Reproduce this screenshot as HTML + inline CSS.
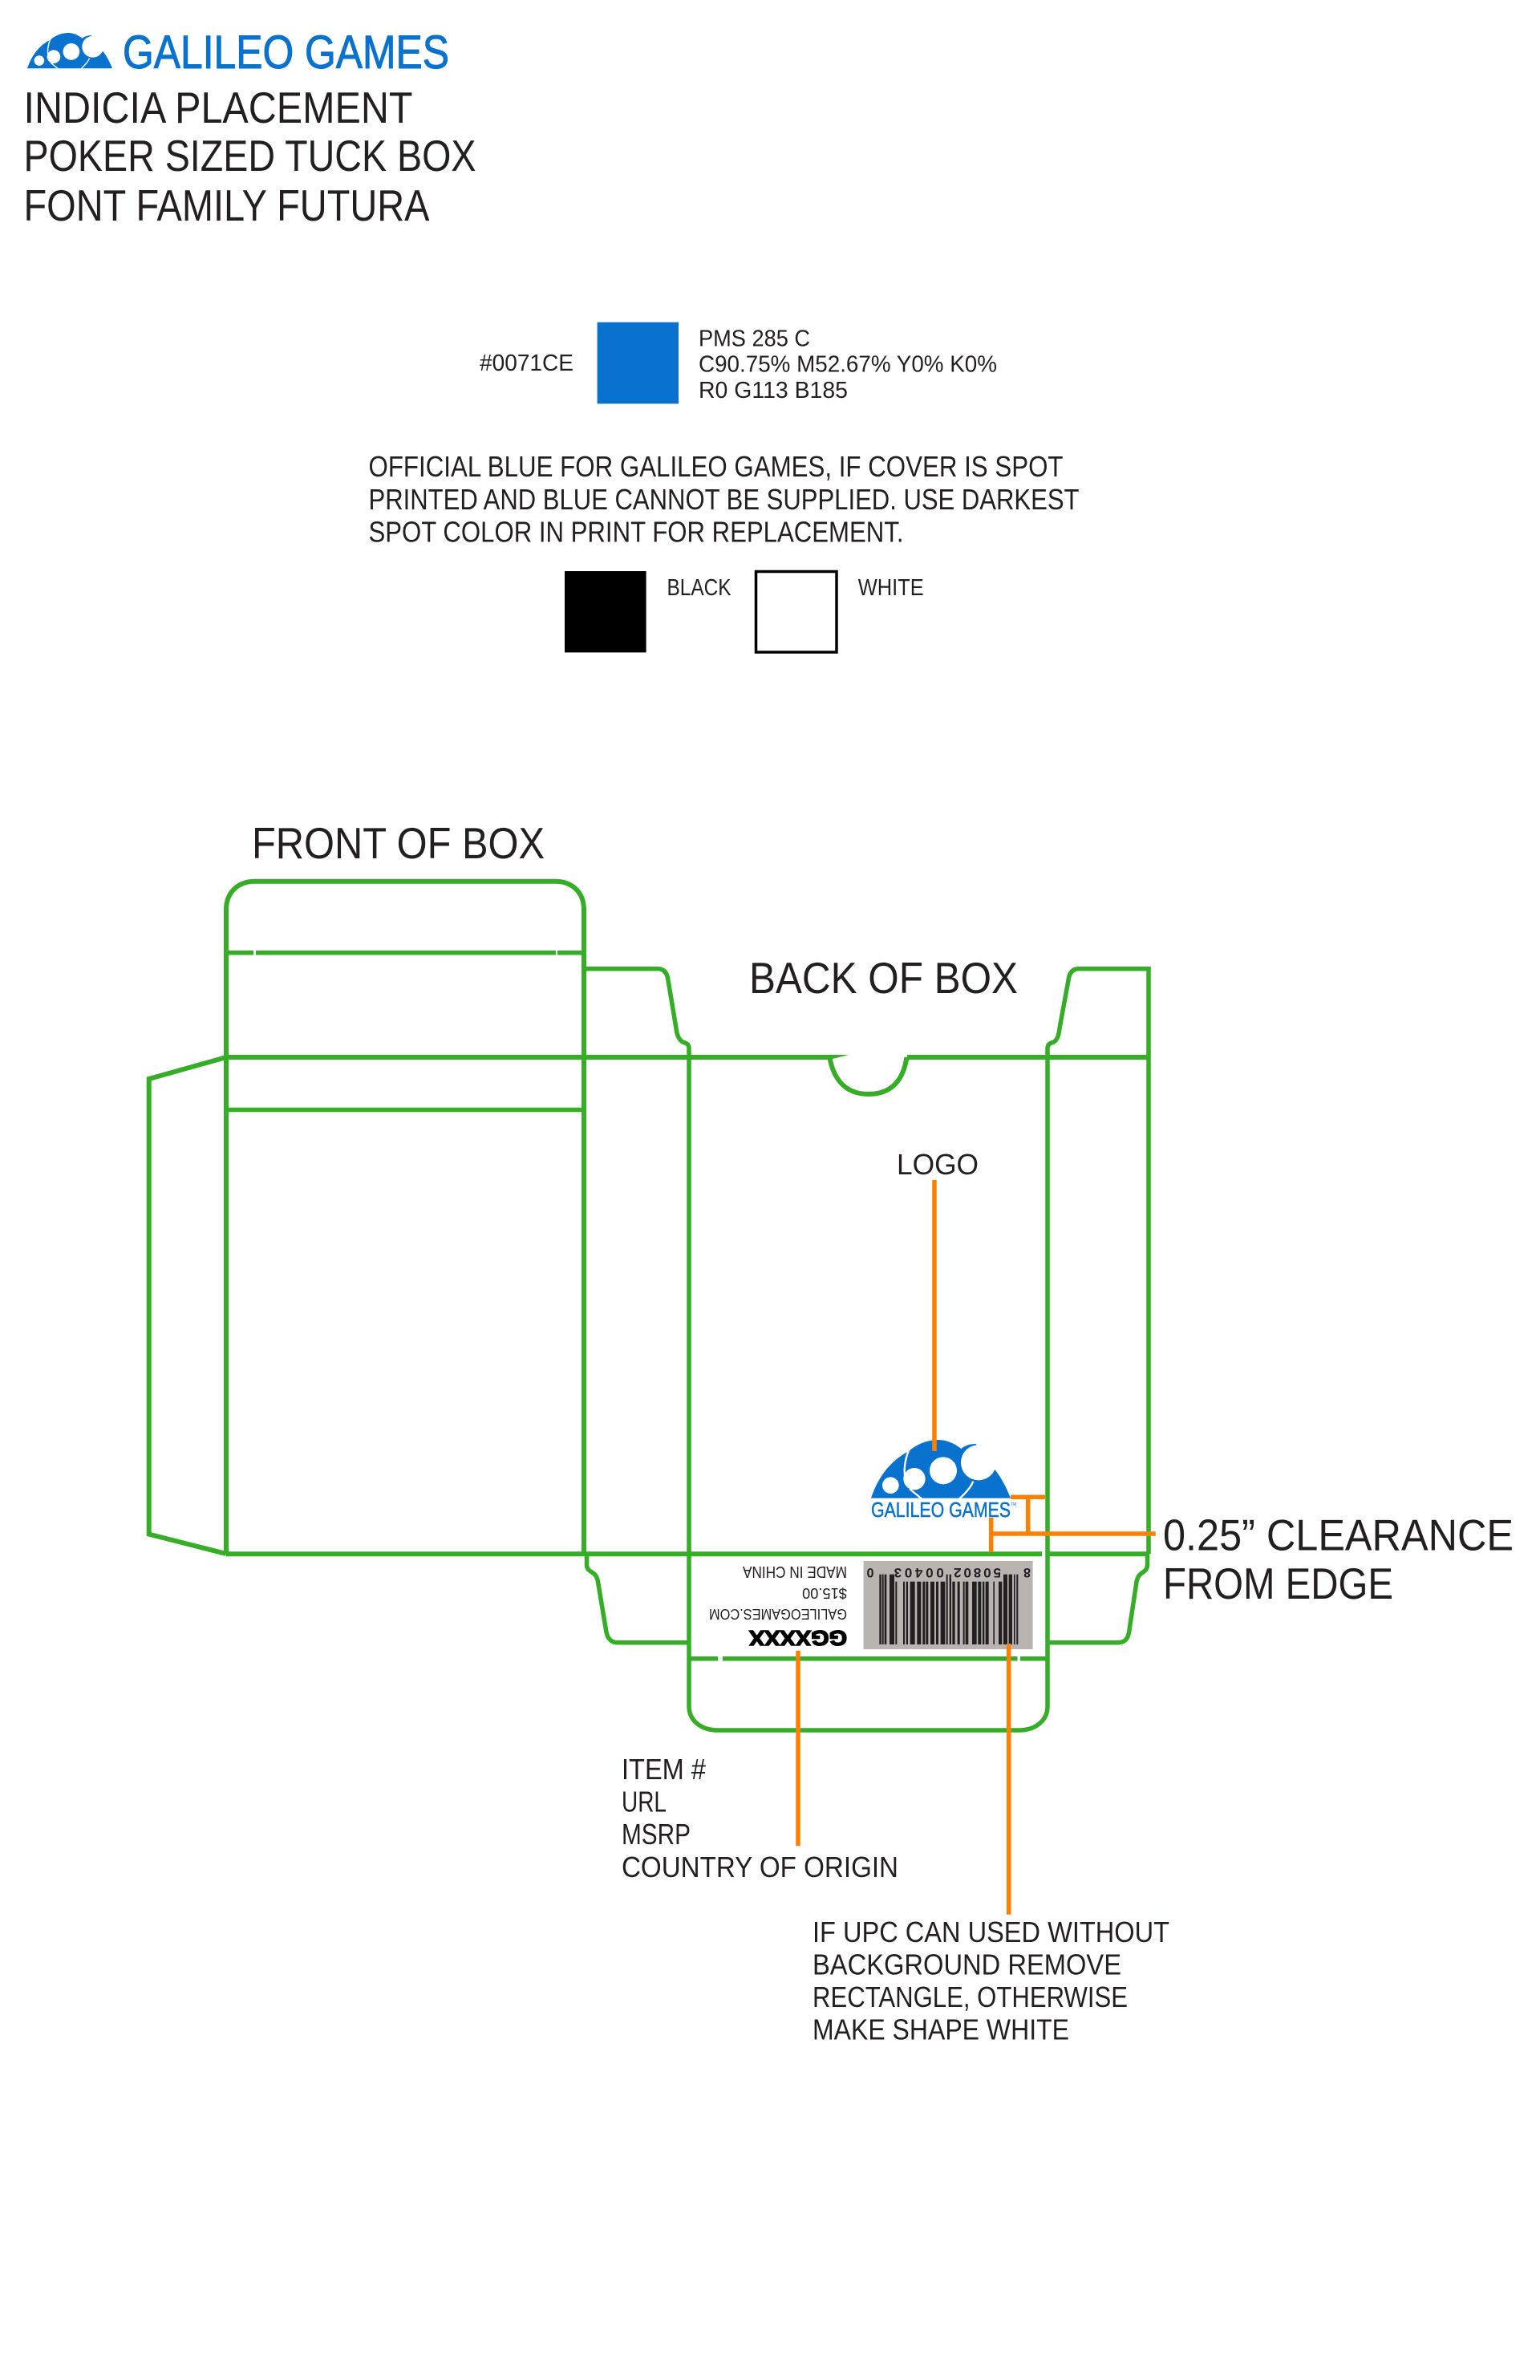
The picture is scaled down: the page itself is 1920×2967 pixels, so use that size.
<!DOCTYPE html>
<html lang="en">
<head>
<meta charset="utf-8">
<title>Indicia Placement</title>
<style>
html,body{margin:0;padding:0;background:#fff;width:1920px;height:2967px;overflow:hidden}
svg{display:block}
text{font-family:"Liberation Sans",sans-serif;fill:#231f20;font-kerning:normal}
.t{font-size:55px}
.m{font-size:36px}
.s{font-size:28.5px}
.g{fill:none;stroke:#36ad27;stroke-width:6}
.h{fill:none;stroke:#36ad27;stroke-width:5.5}
.o{fill:none;stroke:#ff8000;stroke-width:5.5}
</style>
</head>
<body>
<svg xmlns="http://www.w3.org/2000/svg" width="1920" height="2967" viewBox="0 0 1920 2967">
<rect width="1920" height="2967" fill="#fff"/>
<defs>
<g id="dome">
<path fill="#0971ce" d="M138 353C165 270 215 210 278 178C310 150 350 135 390 135C420 135 450 148 475 168C490 155 510 150 530 150L600 245C625 275 645 315 660 353Z"/>
<g fill="#fff">
<circle cx="211" cy="305" r="31"/>
<circle cx="300" cy="281" r="41"/>
<circle cx="408" cy="250" r="51"/>
<circle cx="540" cy="220" r="66"/>
</g>
<g fill="none" stroke="#fff" stroke-width="7">
<path d="M280 172C264 210 260 250 266 285"/>
<path d="M282 318L328 356"/>
<path d="M520 290C510 315 490 335 468 356"/>
</g>
</g>
</defs>

<!-- header -->
<use href="#dome" transform="translate(6 13.6) scale(.2031)"/>
<text x="153" y="85" font-size="58" stroke="#0971ce" stroke-width="1" style="fill:#0971ce" textLength="407" lengthAdjust="spacingAndGlyphs">GALILEO GAMES</text>
<text class="t" x="29.5" y="153" textLength="485" lengthAdjust="spacingAndGlyphs">INDICIA PLACEMENT</text>
<text class="t" x="29.5" y="213" textLength="564" lengthAdjust="spacingAndGlyphs">POKER SIZED TUCK BOX</text>
<text class="t" x="29.5" y="275" textLength="506" lengthAdjust="spacingAndGlyphs">FONT FAMILY FUTURA</text>

<!-- swatches -->
<text class="s" x="598" y="462" textLength="117" lengthAdjust="spacingAndGlyphs">#0071CE</text>
<rect x="744.6" y="401.7" width="101.4" height="101.6" fill="#0971ce"/>
<text class="s" x="871" y="431.5" textLength="139" lengthAdjust="spacingAndGlyphs">PMS 285 C</text>
<text class="s" x="871" y="463.5" textLength="372" lengthAdjust="spacingAndGlyphs">C90.75% M52.67% Y0% K0%</text>
<text class="s" x="871" y="496" textLength="186" lengthAdjust="spacingAndGlyphs">R0 G113 B185</text>
<text class="m" x="459.5" y="594" textLength="866" lengthAdjust="spacingAndGlyphs">OFFICIAL BLUE FOR GALILEO GAMES, IF COVER IS SPOT</text>
<text class="m" x="459.5" y="635" textLength="886" lengthAdjust="spacingAndGlyphs">PRINTED AND BLUE CANNOT BE SUPPLIED. USE DARKEST</text>
<text class="m" x="459.5" y="675.7" textLength="667" lengthAdjust="spacingAndGlyphs">SPOT COLOR IN PRINT FOR REPLACEMENT.</text>
<rect x="704" y="712" width="101.6" height="101.4" fill="#000"/>
<text class="s" x="831.5" y="742" textLength="80" lengthAdjust="spacingAndGlyphs">BLACK</text>
<rect x="942.5" y="712.5" width="100.5" height="100.5" fill="#fff" stroke="#000" stroke-width="3.5"/>
<text class="s" x="1069.7" y="742" textLength="82" lengthAdjust="spacingAndGlyphs">WHITE</text>

<!-- section labels -->
<text class="t" x="314" y="1070" textLength="365" lengthAdjust="spacingAndGlyphs">FRONT OF BOX</text>
<text class="t" x="934" y="1238" textLength="335" lengthAdjust="spacingAndGlyphs">BACK OF BOX</text>
<text class="m" x="1118" y="1464" textLength="102" lengthAdjust="spacingAndGlyphs">LOGO</text>
<text class="t" x="1450" y="1932.7" textLength="437" lengthAdjust="spacingAndGlyphs">0.25” CLEARANCE</text>
<text class="t" x="1450" y="1993" textLength="287" lengthAdjust="spacingAndGlyphs">FROM EDGE</text>

<!-- dieline -->
<g>
<path class="g" d="M282 1937V1134C282 1113 296 1098.7 318 1098.7H692C714 1098.7 728 1113 728 1134V1937"/>
<path class="h" d="M282 1187.7H316M319 1187.7H693M695 1187.7H728"/>
<path class="g" d="M282 1318H1034.5M1131 1318H1432"/>
<path fill="#36ad27" d="M1034 1315H1058L1034 1321Z"/>
<path class="h" d="M282 1383.5H728"/>
<path class="g" d="M282 1318L185.7 1345V1912.6L282 1937"/>
<path class="h" d="M728 1207.7H820C828 1207.7 832 1213 833 1222L843 1282C844 1292 848 1299 854 1300C857 1301 859 1303 859 1307V2127C859 2145 874 2157 895 2157H1270C1291 2157 1306 2145 1306 2127V1307C1306 1303 1308 1301 1311 1300C1317 1299 1320 1292 1321 1282L1332 1222C1333 1213 1337 1207.7 1345 1207.7H1432V1937"/>
<path class="g" d="M1034.5 1319C1040 1348 1056 1364 1083 1364C1110 1364 1126 1348 1130.5 1318"/>
<path class="g" d="M282 1937.3H1299M1306 1937.3H1432"/>
<path class="h" d="M731.5 1937V1950C731.5 1955 733 1957 738 1960C743 1963 745 1967 746 1975L755.5 2032C757 2042 761 2047.7 770 2047.7H859"/>
<path class="h" d="M1306 2047.7H1394C1403 2047.7 1407 2042 1408 2032L1416.5 1975C1417.5 1967 1420 1963 1425 1960C1429 1957 1430.5 1955 1430.5 1950V1937"/>
<path class="h" d="M859 2067.7H895M901 2067.7H1268.5M1272 2067.7H1306"/>
</g>

<!-- indicia logo -->
<use href="#dome" transform="translate(1040 1750) scale(.3333)"/>
<text x="1086" y="1891" font-size="25.5" stroke="#0971ce" stroke-width=".5" style="fill:#0971ce" textLength="174" lengthAdjust="spacingAndGlyphs">GALILEO GAMES</text>
<text x="1260" y="1877" font-size="5" style="fill:#0971ce">TM</text>

<!-- upside-down text -->
<text transform="translate(1056 1953) rotate(180)" font-size="20" textLength="130" lengthAdjust="spacingAndGlyphs">MADE IN CHINA</text>
<text transform="translate(1056 1980) rotate(180)" font-size="18" textLength="56" lengthAdjust="spacingAndGlyphs">$15.00</text>
<text transform="translate(1056 2006) rotate(180)" font-size="18" textLength="172" lengthAdjust="spacingAndGlyphs">GALILEOGAMES.COM</text>
<text transform="translate(1056 2033) rotate(180)" font-size="26" font-weight="700" stroke="#000" stroke-width="1.5" style="fill:#000" textLength="122" lengthAdjust="spacingAndGlyphs">GGXXXX</text>

<!-- barcode -->
<rect x="1076.6" y="1946" width="211" height="110" fill="#b9b4b0"/>
<g transform="translate(1090 1950) scale(.3333)" fill="#231f20">
<rect x="19" y="38" width="7" height="262"/><rect x="29" y="38" width="6" height="262"/><rect x="38" y="38" width="8" height="262"/><rect x="57" y="38" width="18" height="262"/><rect x="79" y="65" width="6" height="235"/>
<rect x="108" y="65" width="6" height="235"/><rect x="119" y="65" width="7" height="235"/><rect x="134" y="65" width="18" height="235"/><rect x="160" y="65" width="15" height="235"/><rect x="181" y="65" width="9" height="235"/><rect x="193" y="65" width="9" height="235"/><rect x="210" y="65" width="15" height="235"/><rect x="231" y="65" width="9" height="235"/><rect x="248" y="65" width="17" height="235"/>
<rect x="269" y="38" width="6" height="262"/><rect x="281" y="38" width="7" height="262"/><rect x="292" y="65" width="10" height="235"/><rect x="311" y="65" width="9" height="235"/><rect x="332" y="65" width="6" height="235"/><rect x="341" y="65" width="11" height="235"/><rect x="366" y="65" width="17" height="235"/><rect x="388" y="65" width="12" height="235"/><rect x="405" y="65" width="7" height="235"/><rect x="416" y="65" width="12" height="235"/><rect x="445" y="65" width="5" height="235"/><rect x="465" y="65" width="13" height="235"/>
<rect x="483" y="38" width="15" height="262"/><rect x="503" y="38" width="13" height="262"/><rect x="522" y="38" width="5" height="262"/><rect x="532" y="38" width="6" height="262"/>
</g>
<g font-weight="700">
<text transform="translate(1089.5 1955) rotate(180)" font-size="17" textLength="9" lengthAdjust="spacingAndGlyphs">0</text>
<text transform="translate(1176.7 1955) rotate(180)" font-size="17" textLength="62" lengthAdjust="spacing">00403</text>
<text transform="translate(1248 1955) rotate(180)" font-size="17" textLength="59" lengthAdjust="spacing">50802</text>
<text transform="translate(1285 1955) rotate(180)" font-size="17" textLength="9" lengthAdjust="spacingAndGlyphs">8</text>
</g>

<!-- orange leaders -->
<path class="o" d="M1165 1471V1809"/>
<path class="o" d="M1260 1866.3H1303M1281.7 1866.3V1912M1233 1912H1440.7M1235.7 1892V1935"/>
<path class="o" d="M995 2057.7V2301"/>
<path class="o" d="M1257.7 2049V2386.7"/>

<!-- lower labels -->
<text class="m" x="775" y="2218" textLength="105" lengthAdjust="spacingAndGlyphs">ITEM #</text>
<text class="m" x="775" y="2258.7" textLength="56" lengthAdjust="spacingAndGlyphs">URL</text>
<text class="m" x="775" y="2299" textLength="86" lengthAdjust="spacingAndGlyphs">MSRP</text>
<text class="m" x="775" y="2340" textLength="345" lengthAdjust="spacingAndGlyphs">COUNTRY OF ORIGIN</text>
<text class="m" x="1013" y="2421" textLength="445" lengthAdjust="spacingAndGlyphs">IF UPC CAN USED WITHOUT</text>
<text class="m" x="1013" y="2461.7" textLength="385" lengthAdjust="spacingAndGlyphs">BACKGROUND REMOVE</text>
<text class="m" x="1013" y="2502" textLength="393" lengthAdjust="spacingAndGlyphs">RECTANGLE, OTHERWISE</text>
<text class="m" x="1013" y="2542.7" textLength="320" lengthAdjust="spacingAndGlyphs">MAKE SHAPE WHITE</text>
</svg>
</body>
</html>
